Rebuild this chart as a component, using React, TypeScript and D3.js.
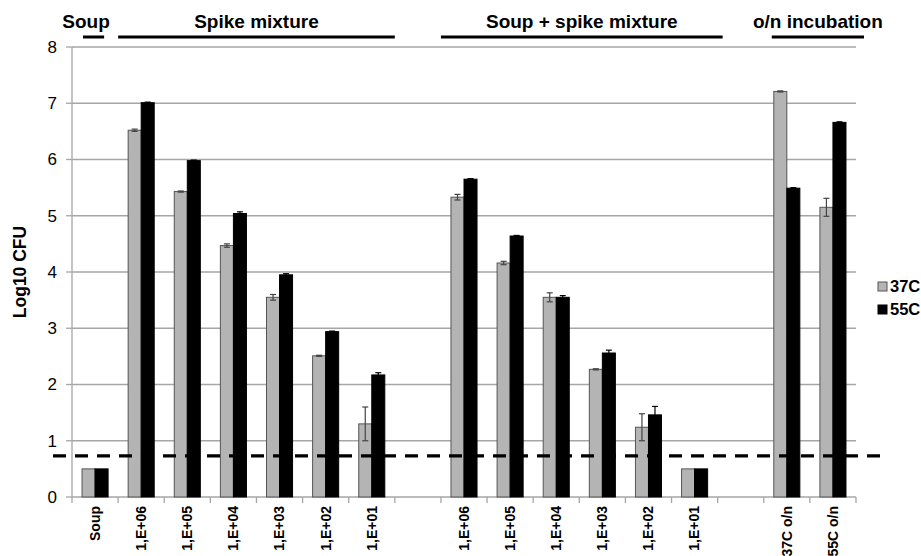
import * as d3 from 'd3'

// categories along the x axis ('' = empty spacer slot)
const categories = [
  'Soup', '1,E+06', '1,E+05', '1,E+04', '1,E+03', '1,E+02', '1,E+01', '',
  '1,E+06', '1,E+05', '1,E+04', '1,E+03', '1,E+02', '1,E+01', '',
  '37C o/n', '55C o/n',
]
const series = ['37C', '55C']
const values37: (number | null)[] = [0.5, 6.52, 5.43, 4.47, 3.55, 2.51, 1.3, null, 5.33, 4.16, 3.55, 2.27, 1.24, 0.5, null, 7.21, 5.15]
const values55: (number | null)[] = [0.5, 7.01, 5.98, 5.04, 3.95, 2.94, 2.17, null, 5.65, 4.64, 3.55, 2.56, 1.46, 0.5, null, 5.49, 6.66]
const err37: (number | null)[] = [0, 0.02, 0.01, 0.03, 0.05, 0.01, 0.3, null, 0.05, 0.03, 0.08, 0.01, 0.24, 0, null, 0.01, 0.16]
const err55: (number | null)[] = [0, 0.01, 0.01, 0.03, 0.02, 0.01, 0.04, null, 0.01, 0.01, 0.03, 0.05, 0.15, 0, null, 0.01, 0.01]
const yTicks = [0, 1, 2, 3, 4, 5, 6, 7, 8]
const detectionLimit = 0.73

// group headers: label, first and last category index
const groups: { label: string; from: number; to: number }[] = [
  { label: 'Soup', from: 0, to: 0 },
  { label: 'Spike mixture', from: 1, to: 6 },
  { label: 'Soup + spike mixture', from: 8, to: 13 },
  { label: 'o/n incubation', from: 15, to: 16 },
]

const W = 921
const H = 556
const M = { left: 72, right: 65, top: 39, bottom: 59 }
const FONT = 'Liberation Sans, Arial, sans-serif'
const colors: Record<string, string> = { '37C': '#b4b4b4', '55C': '#000000' }

export default function App() {
  const x = d3
    .scaleBand<number>()
    .domain(categories.map((_, i) => i))
    .range([M.left, W - M.right])
  const inner = d3.scaleBand<string>().domain(series).range([0, x.bandwidth()]).paddingOuter(0.77)
  const y = d3.scaleLinear().domain([0, 8]).range([H - M.bottom, M.top + 8])

  const x0 = M.left
  const x1 = W - M.right
  const bars = series.flatMap((s) => {
    const vals = s === '37C' ? values37 : values55
    const errs = s === '37C' ? err37 : err55
    return categories
      .map((_, i) => ({ s, i, v: vals[i], e: errs[i] ?? 0 }))
      .filter((d) => d.v != null)
  })

  return (
    <svg width={W} height={H} style={{ position: 'absolute', left: 0, top: 0 }} fontFamily={FONT}>
      <rect width={W} height={H} fill="#fff" />
      {/* grid */}
      {yTicks.map((t) => (
        <g key={t}>
          {t > 0 && <line x1={x0} x2={x1} y1={y(t)} y2={y(t)} stroke="#a6a6a6" strokeWidth={1.3} />}
          <line x1={x0 - 6} x2={x0} y1={y(t)} y2={y(t)} stroke="#a6a6a6" strokeWidth={1.3} />
          <text x={x0 - 15} y={y(t)} dy="0.35em" textAnchor="end" fontSize={17} fill="#000">
            {t}
          </text>
        </g>
      ))}
      {/* axes */}
      <line x1={x0} x2={x0} y1={y(8)} y2={y(0)} stroke="#a6a6a6" strokeWidth={1.3} />
      <line x1={x0} x2={x1} y1={y(0)} y2={y(0)} stroke="#a6a6a6" strokeWidth={1.3} />
      {categories.map((_, i) => (
        <line key={i} x1={x(i)!} x2={x(i)!} y1={y(0)} y2={y(0) + 6} stroke="#a6a6a6" strokeWidth={1.3} />
      ))}
      <line x1={x1} x2={x1} y1={y(0)} y2={y(0) + 6} stroke="#a6a6a6" strokeWidth={1.3} />

      {/* bars */}
      {bars.map((d) => {
        const bx = x(d.i)! + inner(d.s)!
        const bw = inner.bandwidth()
        return (
          <rect
            key={d.s + d.i}
            x={bx}
            y={y(d.v!)}
            width={bw}
            height={y(0) - y(d.v!)}
            fill={colors[d.s]}
            stroke={d.s === '37C' ? '#555' : '#000'}
            strokeWidth={1}
          />
        )
      })}
      {/* error bars */}
      {bars
        .filter((d) => d.e > 0)
        .map((d) => {
          const cx = x(d.i)! + inner(d.s)! + inner.bandwidth() / 2
          const top = y(d.v! + d.e)
          const bot = y(d.v! - d.e)
          const st = d.s === '37C' ? '#444' : '#000'
          return (
            <g key={'e' + d.s + d.i} stroke={st} strokeWidth={1.2}>
              <line x1={cx} x2={cx} y1={top} y2={bot} />
              <line x1={cx - 3} x2={cx + 3} y1={top} y2={top} />
              <line x1={cx - 3} x2={cx + 3} y1={bot} y2={bot} />
            </g>
          )
        })}

      {/* detection limit */}
      <line
        x1={53}
        x2={883}
        y1={y(detectionLimit)}
        y2={y(detectionLimit)}
        stroke="#000"
        strokeWidth={3.2}
        strokeDasharray="13 9"
      />

      {/* x labels */}
      {categories.map((c, i) =>
        c ? (
          <text
            key={'l' + i}
            transform={`translate(${x(i)! + x.bandwidth() / 2},${y(0) + 9}) rotate(-90)`}
            textAnchor="end"
            dy="0.35em"
            fontSize={14}
            fontWeight="bold"
          >
            {c}
          </text>
        ) : null,
      )}

      {/* y title */}
      <text transform={`translate(20,${(y(0) + y(8)) / 2}) rotate(-90)`} textAnchor="middle" dy="0.35em" fontSize={17.5} fontWeight="bold">
        Log10 CFU
      </text>

      {/* group headers */}
      {groups.map((g) => {
        const gx0 = g.from === g.to ? x(g.from)! + 11 : x(g.from)! + (g.from === 15 ? 8 : 0)
        const gx1 = g.from === g.to ? x(g.from)! + x.bandwidth() - 14 : x(g.to)! + x.bandwidth() + (g.from === 15 ? 8 : g.from === 8 ? 5 : 0)
        const tx = g.from === 0 ? 86 : (gx0 + gx1) / 2
        return (
          <g key={g.label}>
            <line x1={gx0} x2={gx1} y1={37} y2={37} stroke="#000" strokeWidth={3} />
            <text x={tx} y={28} textAnchor="middle" fontSize={19} fontWeight="bold">
              {g.label}
            </text>
          </g>
        )
      })}

      {/* legend */}
      {series.map((s, i) => (
        <g key={s} transform={`translate(878,${282 + i * 23})`}>
          <rect width={9} height={9} fill={colors[s]} stroke={s === '37C' ? '#555' : '#000'} strokeWidth={1} />
          <text x={12} y={4.5} dy="0.35em" fontSize={16.5} fontWeight="bold">
            {s}
          </text>
        </g>
      ))}
    </svg>
  )
}
